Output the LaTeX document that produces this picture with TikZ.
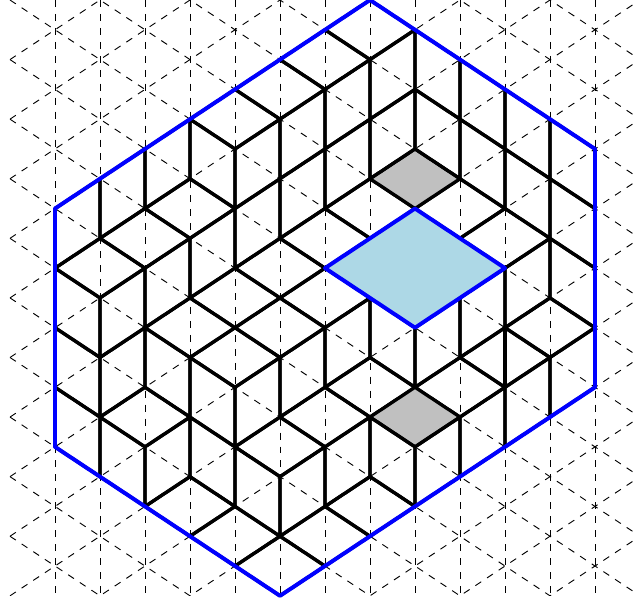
\documentclass[tikz,border=0pt]{standalone}
\definecolor{rimblue}{RGB}{0,0,255}
\definecolor{holeblue}{RGB}{173,216,230}
\definecolor{tilegray}{RGB}{192,192,192}
\usepackage{tikz}
\begin{document}
\begin{tikzpicture}[x=19.35pt, y=-12.81pt,
  tile/.style={line width=1.4pt, line join=round},
  rim/.style={line width=1.7pt, rimblue, line join=round}]
  \useasboundingbox (-1.2222,0) rectangle (12.8667,20.336);
  %% dashed triangular lattice
  \begin{scope}
    \clip (-1,0) rectangle (13,20);
    \foreach \c in {0,...,12} \draw[dashed] (\c,0) -- (\c,20);
    \foreach \k in {-13,-11,...,21} \draw[dashed] (-1,\k-1) -- (13,\k+13);
    \foreach \m in {-1,1,...,33} \draw[dashed] (-1,\m+1) -- (13,\m-13);
  \end{scope}
  %% top lozenges (column of short diagonal / its upper end)
  \foreach \c/\s in {1/8, 2/7, 2/13, 3/6, 3/10, 3/16, 4/3, 4/9, 4/11, 4/17,
      5/2, 5/8, 5/10, 5/14, 5/18, 6/1, 6/7, 6/9, 6/13, 6/17,
      7/0, 7/6, 7/12, 7/16, 9/6, 9/12, 10/7, 10/11, 11/10}
    \draw[tile] (\c-1,\s+1) -- (\c,\s) -- (\c+1,\s+1) -- (\c,\s+2) -- cycle;
  \foreach \c/\s in {8/5, 8/13}
    \filldraw[tile, fill=tilegray] (\c-1,\s+1) -- (\c,\s) -- (\c+1,\s+1) -- (\c,\s+2) -- cycle;
  %% left faces
  \foreach \i/\a in {0/9, 0/11, 0/13, 1/14, 2/11, 3/4, 3/12, 3/14, 4/15, 7/10,
      7/14, 8/1, 8/3, 9/2, 9/4, 10/3, 10/5, 11/4, 11/6, 11/8}
    \draw[tile] (\i,\a) -- (\i+1,\a+1) -- (\i+1,\a+3) -- (\i,\a+2) -- cycle;
  %% right faces
  \foreach \i/\a in {0/7, 1/6, 1/10, 1/12, 2/5, 2/9, 2/15, 3/8, 4/5, 4/7,
      4/13, 5/4, 5/6, 5/12, 5/16, 6/3, 6/5, 6/11, 6/15, 7/2,
      7/4, 8/11, 8/15, 9/10, 9/14, 10/9, 10/13, 11/12}
    \draw[tile] (\i,\a) -- (\i+1,\a-1) -- (\i+1,\a+1) -- (\i,\a+2) -- cycle;
  %% extra vertical stroke
  \draw[tile] (10,11) -- (10,13);
  %% hole
  \filldraw[rim, fill=holeblue] (6,9) -- (8,7) -- (10,9) -- (8,11) -- cycle;
  %% outer hexagon
  \draw[rim] (7,0) -- (12,5) -- (12,13) -- (5,20) -- (0,15) -- (0,7) -- cycle;
\end{tikzpicture}
\end{document}
